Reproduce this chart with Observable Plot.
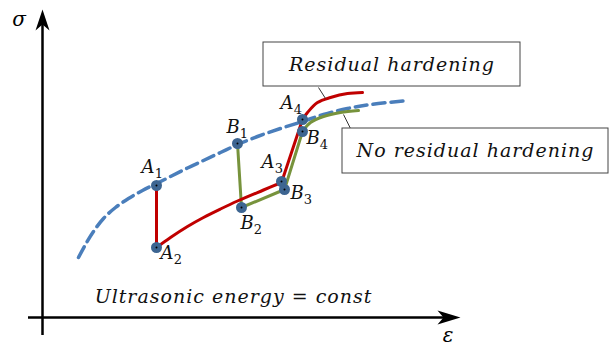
<!DOCTYPE html>
<html>
<head>
<meta charset="utf-8">
<script src="https://cdn.jsdelivr.net/npm/d3@7"></script>
<script src="https://cdn.jsdelivr.net/npm/@observablehq/plot@0.6"></script>
<style>
  html, body { margin: 0; padding: 0; background: #fff; }
  #chart svg { display: block; background: #fff; }
  #chart svg text { letter-spacing: 1px; }
</style>
</head>
<body>
<div id="chart"></div>
<script>
// ---- data (schematic stress–strain units) ----
// Yield envelope (dashed)
const envelopeX = [36, 43, 51, 61, 73, 86, 100, 114, 128, 145, 161, 178, 195, 215, 238, 260, 281, 305, 328, 365];
const envelopeY = [60, 73, 86, 99, 110, 119, 127, 134, 141, 149.5, 157, 165, 173, 181, 189, 196, 203, 209, 213, 217];

// Residual hardening path (red), by segment
const redSeg = [1, 1, 2, 2, 2, 2, 2, 2, 2, 2, 3, 3, 4, 4, 4, 4, 4, 4];
const redX = [114, 114, 114, 128, 145, 161, 178, 195, 221, 239, 239, 260, 260, 265, 275, 288, 305, 320];
const redY = [132, 70, 70, 80, 91, 100, 108.5, 116.5, 127.5, 135, 135, 198, 198, 205, 215, 220, 224, 225];

// No residual hardening path (green), by segment
const greenSeg = [1, 1, 2, 2, 3, 3, 4, 4, 4, 4, 4];
const greenX = [195, 199, 199, 242, 242, 260, 260, 268, 281, 298, 316];
const greenY = [174, 110, 110, 128, 128, 186, 186, 195, 201, 205, 207];

// Marked states
const pointNames = ["A1", "A2", "B1", "B2", "A3", "B3", "A4", "B4"];
const pointX = [114, 114, 195, 199, 239, 242, 260, 260];
const pointY = [132, 70, 174, 110, 136, 128, 198, 186];

// Point labels (letter + subscript) and where they sit
const labelLetter = ["A", "A", "B", "B", "A", "B", "A", "B"];
const labelSub = ["1", "2", "1", "2", "3", "3", "4", "4"];
const labelX = [106, 125, 191, 205, 226, 255, 245, 271];
const labelY = [150, 64, 190, 94, 155, 124, 214, 179];

// Callout boxes
const calloutText = ["Residual hardening", "No residual hardening"];
const calloutX1 = [221, 300];
const calloutX2 = [478, 566];
const calloutY1 = [231, 144];
const calloutY2 = [275, 189];
const leaderX1 = [276, 308];
const leaderY1 = [230, 189];
const leaderX2 = [283, 301];
const leaderY2 = [219, 203];

// Axes
const axisXEnd = 418, axisYEnd = 308, axisXStart = -14, axisYStart = -18;

// ---- build tables ----
const envelope = envelopeX.map((x, i) => ({x, y: envelopeY[i]}));
const red = redX.map((x, i) => ({x, y: redY[i], seg: redSeg[i]}));
const green = greenX.map((x, i) => ({x, y: greenY[i], seg: greenSeg[i]}));
const points = pointNames.map((n, i) => ({name: n, x: pointX[i], y: pointY[i]}));
const labels = labelLetter.map((l, i) => ({l, s: labelSub[i], x: labelX[i], y: labelY[i]}));
const callouts = calloutText.map((t, i) => ({
  t, x1: calloutX1[i], x2: calloutX2[i], y1: calloutY1[i], y2: calloutY2[i],
  lx1: leaderX1[i], ly1: leaderY1[i], lx2: leaderX2[i], ly2: leaderY2[i]
}));

const upHead = {draw(ctx) { ctx.moveTo(0, 0); ctx.lineTo(-7, 21); ctx.lineTo(0, 15); ctx.lineTo(7, 21); ctx.closePath(); }};
const rightHead = {draw(ctx) { ctx.moveTo(0, 0); ctx.lineTo(-23, -7); ctx.lineTo(-17, 0); ctx.lineTo(-23, 7); ctx.closePath(); }};

const serif = "'DejaVu Serif', 'Liberation Serif', serif";

const chart = Plot.plot({
  width: 611,
  height: 347,
  margin: 0,
  x: {domain: [-42, 569], axis: null},
  y: {domain: [-30, 317], axis: null},
  marks: [
    // axes
    Plot.ruleX([0], {y1: axisYStart, y2: axisYEnd - 14, stroke: "#000", strokeWidth: 2.5}),
    Plot.ruleY([0], {x1: axisXStart, x2: axisXEnd - 16, stroke: "#000", strokeWidth: 2.5}),
    Plot.dot([{x: 0, y: axisYEnd}], {x: "x", y: "y", symbol: upHead, fill: "#000", stroke: "none"}),
    Plot.dot([{x: axisXEnd, y: 0}], {x: "x", y: "y", symbol: rightHead, fill: "#000", stroke: "none"}),
    Plot.text(["σ"], {x: -23, y: 298, fontFamily: serif, fontStyle: "italic", fontSize: 20, fill: "#000"}),
    Plot.text(["ε"], {x: 406, y: -18, fontFamily: serif, fontStyle: "italic", fontSize: 20, fill: "#000"}),
    Plot.text(["Ultrasonic energy = const"], {x: 191, y: 21, fontFamily: serif, fontStyle: "italic", fontSize: 19, fill: "#111"}),
    // envelope
    Plot.line(envelope, {x: "x", y: "y", curve: "catmull-rom", stroke: "#4a7ebb", strokeWidth: 3.5, strokeDasharray: "12,6"}),
    // paths
    Plot.line(green, {x: "x", y: "y", z: "seg", curve: "catmull-rom", stroke: "#77933c", strokeWidth: 3, strokeLinecap: "round"}),
    Plot.line(red, {x: "x", y: "y", z: "seg", curve: "catmull-rom", stroke: "#c00000", strokeWidth: 3, strokeLinecap: "round"}),
    // leader lines and callouts
    Plot.link(callouts, {x1: "lx1", y1: "ly1", x2: "lx2", y2: "ly2", stroke: "#333", strokeWidth: 1}),
    Plot.rect(callouts, {x1: "x1", x2: "x2", y1: "y1", y2: "y2", fill: "#fff", stroke: "#444", strokeWidth: 1}),
    Plot.text(callouts, {x: d => (d.x1 + d.x2) / 2, y: d => (d.y1 + d.y2) / 2, text: "t", fontFamily: serif, fontStyle: "italic", fontSize: 19, fill: "#111"}),
    // points
    Plot.dot(points, {x: "x", y: "y", r: 5.5, fill: "#3d6591", stroke: "none"}),
    Plot.dot(points, {x: "x", y: "y", r: 1, fill: "#000", stroke: "none"}),
    // point labels
    Plot.text(labels, {x: "x", y: "y", text: "l", fontFamily: serif, fontStyle: "italic", fontSize: 18, fill: "#111"}),
    Plot.text(labels, {x: "x", y: "y", text: "s", dx: 11, dy: 6, fontFamily: serif, fontSize: 13, fill: "#111"})
  ]
});
document.getElementById("chart").appendChild(chart);
</script>
</body>
</html>
